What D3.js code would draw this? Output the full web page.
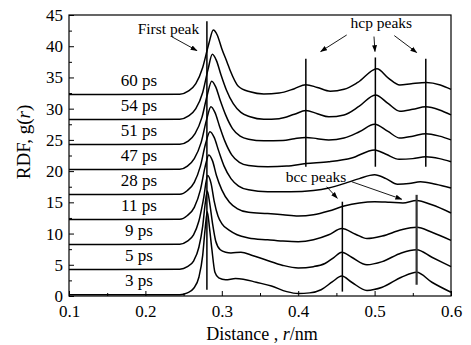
<!DOCTYPE html>
<html>
<head>
<meta charset="utf-8">
<script src="https://cdn.jsdelivr.net/npm/d3@7"></script>
<style>
  body { margin: 0; background: #fff; }
  svg, svg text { font-family: "Liberation Serif", "Times New Roman", serif; }
  svg { display: block; }
</style>
</head>
<body>
<div id="chart"></div>
<script>
// time labels and vertical offsets of the stacked curves
const labels = ["3 ps", "5 ps", "9 ps", "11 ps", "28 ps", "47 ps", "51 ps", "54 ps", "60 ps"];
const offsets = [0, 4, 8, 12, 16, 20, 24, 28, 32];

// g(r), as [r (nm), g] pairs, before offset
const rdf3 = [[0.1,0.2],[0.245,0.2],[0.255,0.5],[0.263,1.2],[0.27,3.0],[0.275,6.5],[0.278,10.5],[0.281,13.5],[0.284,10.8],[0.287,7.5],[0.291,3.8],[0.296,2.9],[0.305,2.6],[0.318,2.8],[0.328,2.7],[0.345,2.2],[0.365,1.6],[0.385,0.7],[0.40,0.4],[0.415,0.5],[0.43,1.0],[0.445,2.3],[0.457,3.2],[0.47,2.2],[0.49,0.9],[0.51,1.4],[0.535,3.0],[0.555,3.8],[0.575,2.2],[0.60,0.6]];
const rdf5 = [[0.1,0.25],[0.245,0.3],[0.255,0.7],[0.263,1.6],[0.27,3.8],[0.275,7.2],[0.278,10.5],[0.281,12.8],[0.284,11.0],[0.288,7.5],[0.292,4.8],[0.298,3.4],[0.305,3.0],[0.312,2.9],[0.325,3.0],[0.34,2.5],[0.357,1.8],[0.38,0.9],[0.40,0.5],[0.42,0.7],[0.435,1.2],[0.447,2.2],[0.457,3.0],[0.47,2.2],[0.49,1.0],[0.51,1.5],[0.535,2.9],[0.555,3.4],[0.575,2.2],[0.60,0.7]];
const rdf9 = [[0.1,0.25],[0.245,0.3],[0.255,0.8],[0.263,1.8],[0.27,4.0],[0.276,7.5],[0.2815,11.3],[0.286,10.0],[0.29,7.2],[0.295,4.8],[0.30,3.6],[0.31,2.5],[0.32,1.8],[0.335,1.3],[0.36,1.0],[0.38,0.8],[0.40,0.7],[0.42,1.0],[0.44,1.8],[0.457,2.8],[0.475,1.9],[0.49,1.2],[0.51,1.6],[0.535,2.6],[0.555,3.0],[0.575,2.2],[0.60,0.9]];
const rdf11 = [[0.1,0.25],[0.245,0.3],[0.255,0.9],[0.264,2.2],[0.272,5.0],[0.278,8.6],[0.283,10.6],[0.288,9.6],[0.293,7.3],[0.30,5.0],[0.31,3.0],[0.32,2.0],[0.335,1.4],[0.36,1.2],[0.38,1.0],[0.40,0.8],[0.42,1.0],[0.44,1.6],[0.46,2.4],[0.48,2.9],[0.50,3.1],[0.52,3.0],[0.537,2.9],[0.555,3.3],[0.575,2.6],[0.60,1.3]];
const rdf28 = [[0.1,0.25],[0.245,0.3],[0.255,0.9],[0.264,2.2],[0.272,4.8],[0.279,8.5],[0.2845,10.3],[0.29,9.4],[0.296,7.2],[0.303,4.8],[0.312,2.8],[0.322,1.6],[0.335,1.0],[0.36,0.7],[0.39,0.7],[0.42,0.9],[0.44,1.3],[0.46,2.0],[0.48,2.8],[0.50,3.4],[0.515,2.8],[0.53,1.9],[0.545,2.0],[0.56,2.3],[0.58,1.9],[0.60,1.3]];
const rdf47 = [[0.1,0.25],[0.245,0.3],[0.255,0.8],[0.264,2.0],[0.273,4.6],[0.28,8.2],[0.2858,10.3],[0.291,9.4],[0.297,7.2],[0.304,4.8],[0.313,2.6],[0.323,1.4],[0.335,0.9],[0.36,0.7],[0.385,0.8],[0.41,1.2],[0.44,1.5],[0.47,2.1],[0.50,3.4],[0.515,2.7],[0.532,1.9],[0.55,2.0],[0.567,2.3],[0.585,2.0],[0.60,1.5]];
const rdf51 = [[0.1,0.25],[0.245,0.3],[0.256,0.8],[0.265,2.0],[0.274,4.6],[0.281,8.2],[0.2868,10.4],[0.292,9.5],[0.298,7.3],[0.305,5.0],[0.314,2.8],[0.324,1.6],[0.335,1.1],[0.355,0.85],[0.38,0.9],[0.395,1.2],[0.41,1.4],[0.425,1.2],[0.44,1.0],[0.46,1.3],[0.48,2.3],[0.50,3.5],[0.517,2.4],[0.533,1.3],[0.55,1.6],[0.567,2.0],[0.585,1.6],[0.60,1.0]];
const rdf54 = [[0.1,0.25],[0.245,0.3],[0.256,0.8],[0.266,2.0],[0.275,4.6],[0.282,8.3],[0.2876,10.7],[0.293,9.7],[0.299,7.4],[0.306,5.0],[0.315,2.8],[0.325,1.4],[0.337,0.7],[0.355,0.3],[0.375,0.4],[0.395,1.1],[0.41,1.7],[0.425,1.2],[0.44,0.7],[0.46,1.0],[0.48,2.4],[0.501,4.2],[0.518,2.8],[0.533,1.6],[0.55,1.9],[0.567,2.3],[0.585,1.8],[0.60,1.0]];
const rdf60 = [[0.1,0.25],[0.245,0.3],[0.256,0.8],[0.266,2.0],[0.275,4.6],[0.283,8.4],[0.2889,10.6],[0.294,9.8],[0.30,7.6],[0.307,5.4],[0.3107,4.2],[0.3216,1.6],[0.337,0.7],[0.355,0.35],[0.375,0.5],[0.395,1.2],[0.41,1.85],[0.425,1.4],[0.442,0.8],[0.46,1.1],[0.478,2.2],[0.503,4.4],[0.518,2.9],[0.533,1.8],[0.548,2.0],[0.568,2.2],[0.586,1.8],[0.60,1.1]];
const curves = [rdf3, rdf5, rdf9, rdf11, rdf28, rdf47, rdf51, rdf54, rdf60];

// axis ticks
const xTicks = [0.1, 0.2, 0.3, 0.4, 0.5, 0.6];
const xMinor = [0.15, 0.25, 0.35, 0.45, 0.55];
const yTicks = [0, 5, 10, 15, 20, 25, 30, 35, 40, 45];
const yMinor = [2.5, 7.5, 12.5, 17.5, 22.5, 27.5, 32.5, 37.5, 42.5];

// marker lines: [r, from g, to g]
const firstPeakLine = [[0.2805, 1, 44]];
const hcpLines = [[0.41, 20.7, 38], [0.501, 20.7, 38.2], [0.567, 20.7, 38]];
const bccLines = [[0.4578, 0.7, 15.1], [0.555, 1.8, 16.2]];

const W = 471, H = 345;
const margin = { top: 15, right: 20, bottom: 49, left: 69 };

const svg = d3.select("#chart").append("svg")
    .attr("width", W)
    .attr("height", H);

svg.append("defs").append("marker")
    .attr("id", "arr")
    .attr("viewBox", "0 0 10 10")
    .attr("refX", 9).attr("refY", 5)
    .attr("markerWidth", 7).attr("markerHeight", 7)
    .attr("markerUnits", "userSpaceOnUse")
    .attr("orient", "auto")
    .append("path")
    .attr("d", "M0,1.5L10,5L0,8.5Z")
    .attr("fill", "#000");

const x = d3.scaleLinear().domain([0.1, 0.6]).range([margin.left, W - margin.right]);
const y = d3.scaleLinear().domain([0, 45]).range([H - margin.bottom, margin.top]);

// axes, ticks pointing inward
const fontSize = "17px";
svg.append("g").attr("transform", `translate(0,${y(0)})`)
    .call(d3.axisBottom(x).tickValues(xTicks).tickSize(-5).tickPadding(9).tickFormat(d3.format(".1f")));
svg.append("g").attr("transform", `translate(0,${y(0)})`)
    .call(d3.axisBottom(x).tickValues(xMinor).tickSize(-3).tickFormat(""));
svg.append("g").attr("transform", `translate(${x(0.1)},0)`)
    .call(d3.axisLeft(y).tickValues(yTicks).tickSize(-5).tickPadding(6));
svg.append("g").attr("transform", `translate(${x(0.1)},0)`)
    .call(d3.axisLeft(y).tickValues(yMinor).tickSize(-3).tickFormat(""));
svg.selectAll("g").attr("font-family", null).attr("font-size", null);
svg.selectAll(".domain").remove();
svg.selectAll(".tick line").attr("stroke", "#000").attr("stroke-width", 1);
svg.selectAll(".tick text").style("font-size", fontSize).attr("fill", "#000");

// frame
svg.append("rect")
    .attr("x", x(0.1)).attr("y", y(45))
    .attr("width", x(0.6) - x(0.1)).attr("height", y(0) - y(45))
    .attr("fill", "none").attr("stroke", "#000").attr("stroke-width", 1.2);

// curves
const line = d3.line()
    .x(d => x(d[0]))
    .y(d => y(d[1]))
    .curve(d3.curveMonotoneX);

curves.forEach((c, i) => {
    svg.append("path")
        .datum(c.map(p => [p[0], p[1] + offsets[i]]))
        .attr("d", line)
        .attr("fill", "none")
        .attr("stroke", "#000")
        .attr("stroke-width", 1.5);
    svg.append("text")
        .attr("x", x(0.1916))
        .attr("y", y(offsets[i] + 1.55))
        .attr("text-anchor", "middle")
        .style("font-size", fontSize)
        .text(labels[i]);
});

// marker lines
const vlines = firstPeakLine.concat(hcpLines, bccLines);
svg.selectAll(".vline").data(vlines).enter().append("line")
    .attr("class", "vline")
    .attr("x1", d => x(d[0])).attr("x2", d => x(d[0]))
    .attr("y1", d => y(d[1])).attr("y2", d => y(d[2]))
    .attr("stroke", (d, i) => i === vlines.length - 1 ? "#333" : "#000")
    .attr("stroke-width", (d, i) => i === vlines.length - 1 ? 2.2 : 1.5);

// annotation texts and arrows
const notes = [
    { text: "First peak", r: 0.2302, g: 42.0, arrows: [[0.2348, 41.5, 0.2675, 39.3]] },
    { text: "hcp peaks", r: 0.5088, g: 42.9, arrows: [[0.4635, 41.8, 0.4294, 39.15], [0.4992, 41.55, 0.5005, 39.15], [0.5258, 41.7, 0.5551, 39.0]] },
    { text: "bcc peaks", r: 0.4233, g: 18.3, arrows: [[0.4373, 17.5, 0.4512, 15.65], [0.4700, 18.3, 0.5355, 15.5]] }
];
notes.forEach(n => {
    svg.append("text")
        .attr("x", x(n.r)).attr("y", y(n.g))
        .attr("text-anchor", "middle")
        .style("font-size", "15.5px")
        .text(n.text);
    n.arrows.forEach(a => {
        svg.append("line")
            .attr("x1", x(a[0])).attr("y1", y(a[1]))
            .attr("x2", x(a[2])).attr("y2", y(a[3]))
            .attr("stroke", "#000").attr("stroke-width", 0.9)
            .attr("marker-end", "url(#arr)");
    });
});

// axis titles
const xt = svg.append("text")
    .attr("x", 262).attr("y", 340)
    .attr("text-anchor", "middle")
    .style("font-size", "18px");
xt.append("tspan").text("Distance , ");
xt.append("tspan").attr("font-style", "italic").text("r");
xt.append("tspan").text("/nm");

const yt = svg.append("text")
    .attr("transform", "translate(30,142) rotate(-90)")
    .attr("text-anchor", "middle")
    .style("font-size", "19px");
yt.append("tspan").text("RDF,  g(");
yt.append("tspan").attr("font-style", "italic").text("r");
yt.append("tspan").text(")");
</script>
</body>
</html>
